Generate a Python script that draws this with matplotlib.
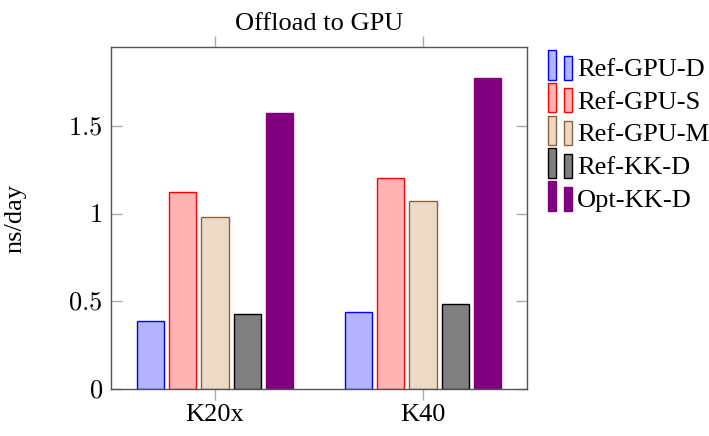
import numpy as np
import matplotlib.pyplot as plt
from matplotlib.patches import Rectangle
from matplotlib.legend_handler import HandlerBase

plt.rcParams["font.family"] = ["Liberation Serif", "DejaVu Serif"]
plt.rcParams["mathtext.fontset"] = "cm"

gpus = ["K20x", "K40"]
series = ["Ref-GPU-D", "Ref-GPU-S", "Ref-GPU-M", "Ref-KK-D", "Opt-KK-D"]
ref_gpu_d = [0.39, 0.44]
ref_gpu_s = [1.125, 1.205]
ref_gpu_m = [0.985, 1.075]
ref_kk_d = [0.43, 0.485]
opt_kk_d = [1.575, 1.775]
values = [ref_gpu_d, ref_gpu_s, ref_gpu_m, ref_kk_d, opt_kk_d]

fills = ["#b3b3ff", "#ffb3b3", "#ecd9c6", "#808080", "#800080"]
edges = ["#0000ff", "#ff0000", "#8c6239", "#000000", "#800080"]

FS = 19


class TwoBars(HandlerBase):
    # pgfplots-style ybar legend image: two small bars side by side
    def create_artists(self, legend, orig_handle, xdescent, ydescent,
                       width, height, fontsize, trans):
        fc = orig_handle.get_facecolor()
        ec = orig_handle.get_edgecolor()
        x0, y0 = -xdescent, -ydescent - 0.2 * height
        w = width * 0.33
        a = Rectangle((x0, y0), w, height * 1.6, fc=fc, ec=ec, lw=1, transform=trans)
        b = Rectangle((x0 + width * 0.64, y0), w, height * 1.3, fc=fc, ec=ec, lw=1, transform=trans)
        return [a, b]


fig = plt.figure(figsize=(7.09, 4.36), dpi=100)
ax = fig.add_axes([111 / 709, 1 - 389 / 436, 416 / 709, 342 / 436])

x = np.arange(len(gpus))
step = 0.154
width = 0.13
handles = []
for i, (name, vals) in enumerate(zip(series, values)):
    offs = (i - 2) * step
    bars = ax.bar(x + offs, vals, width, color=fills[i], edgecolor=edges[i],
                  linewidth=1, label=name)
    handles.append(bars[0])

ax.set_xlim(-0.5, 1.5)
ax.set_ylim(0, 1.954)
ax.set_xticks(x)
ax.set_xticklabels(gpus, fontsize=FS)
ax.set_yticks([0, 0.5, 1, 1.5])
ax.set_yticklabels(["$0$", "$0.5$", "$1$", "$1.5$"], fontsize=FS)
ax.tick_params(axis="x", direction="out", length=8, color="#aaaaaa", width=1,
               top=True, pad=3)
ax.tick_params(axis="y", direction="in", length=8, color="#aaaaaa", width=1,
               right=True, pad=6)
for s in ax.spines.values():
    s.set_color("#555555")
    s.set_linewidth(1)

ax.set_ylabel("ns/day", fontsize=FS, labelpad=30)
ax.set_title("Offload to GPU", fontsize=FS, pad=12)

ax.legend(handles, series, handler_map={h: TwoBars() for h in handles},
          loc="upper left", bbox_to_anchor=(1.025, 1.0), frameon=False,
          fontsize=FS, handlelength=0.95, handletextpad=0.15, labelspacing=0.35,
          borderaxespad=0.0)

fig.savefig("out.png", dpi=100)
